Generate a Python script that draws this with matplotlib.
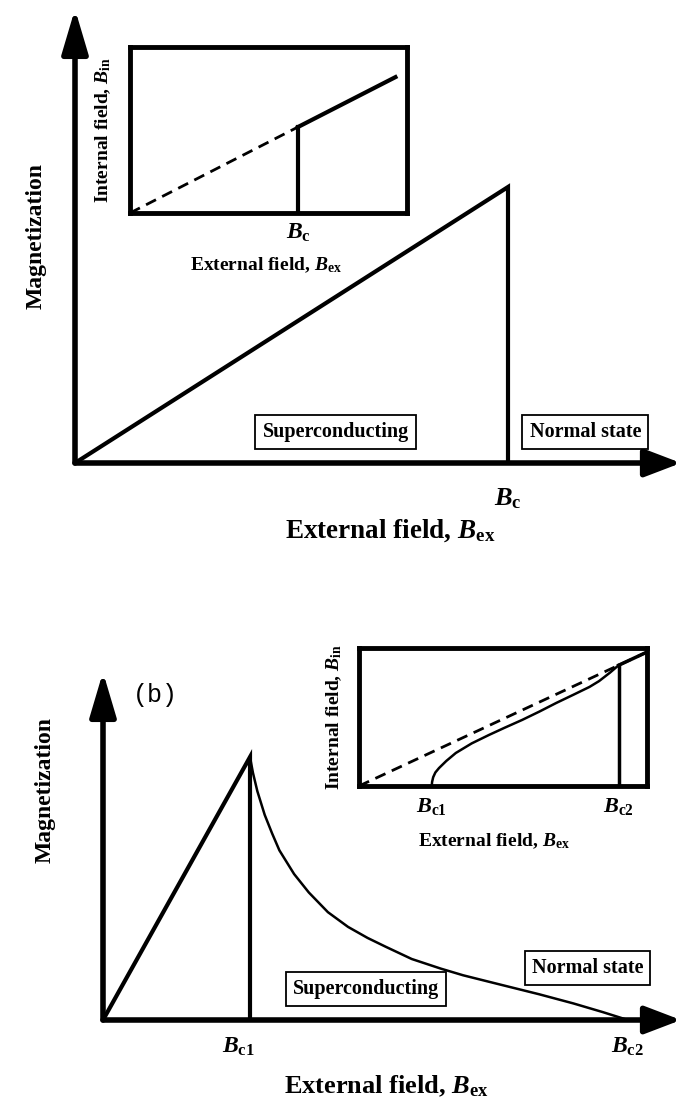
import numpy as np
import matplotlib
matplotlib.use("Agg")
import matplotlib.pyplot as plt
from matplotlib.patches import FancyArrowPatch

plt.rcParams['font.family'] = ['Liberation Serif', 'DejaVu Serif']
plt.rcParams['font.weight'] = 'bold'
plt.rcParams['mathtext.fontset'] = 'custom'
plt.rcParams['mathtext.rm'] = 'Liberation Serif:bold'
plt.rcParams['mathtext.it'] = 'Liberation Serif:bold:italic'
plt.rcParams['mathtext.bf'] = 'Liberation Serif:bold'

# ---- data (fields in units of the lower critical field) ----
# (a) type-I superconductor
typeI_B = [0.0, 1.0, 1.0]
typeI_M = [0.0, 1.0, 0.0]
typeI_in_dash_B = [0.0, 1.0]
typeI_in_dash_Bin = [0.0, 1.0]
typeI_in_jump_B = [1.0, 1.0]
typeI_in_jump_Bin = [0.0, 1.0]
typeI_in_norm_B = [1.0, 1.58]
typeI_in_norm_Bin = [1.0, 1.58]

# (b) type-II superconductor
Bc1 = 1.0
Bc2 = 3.57
typeII_rise_B = [0.0, Bc1, Bc1]
typeII_rise_M = [0.0, 1.0, 0.0]
typeII_mixed_B = [1.0, 1.02, 1.05, 1.10, 1.15, 1.20, 1.30, 1.40, 1.53, 1.667, 1.80,
                  1.925, 2.10, 2.30, 2.45, 2.70, 2.966, 3.20, 3.40, 3.57]
typeII_mixed_M = [1.0, 0.94, 0.87, 0.78, 0.71, 0.645, 0.555, 0.485, 0.41, 0.354, 0.312,
                  0.278, 0.232, 0.195, 0.170, 0.135, 0.098, 0.063, 0.030, 0.0]
typeII_in_B = [1.0, 1.005, 1.02, 1.05, 1.10, 1.20, 1.331, 1.55, 1.787, 2.0, 2.243,
               2.48, 2.713, 2.95, 3.169, 3.30, 3.45, 3.57]
typeII_in_Bin = [0.0, 0.12, 0.26, 0.40, 0.53, 0.74, 0.976, 1.26, 1.509, 1.72, 1.953,
                 2.20, 2.456, 2.70, 2.929, 3.10, 3.35, 3.57]
typeII_in_dash = [0.0, 3.96]
typeII_in_norm = [3.57, 3.96]

W, H = 681, 1100
fig = plt.figure(figsize=(W / 100, H / 100), dpi=100)


def px_axes(x0, y0, x1, y1, **kw):
    """Axes spanning pixel box (x0, y0)-(x1, y1), y measured from the top."""
    return fig.add_axes([x0 / W, 1 - y1 / H, (x1 - x0) / W, (y1 - y0) / H], **kw)


def arrow_axes(ax, lw=4):
    base = dict(mutation_scale=20, lw=lw, color='black', shrinkA=0, shrinkB=0,
                clip_on=False)
    ax.add_patch(FancyArrowPatch((0, 0), (1, 0), transform=ax.transAxes,
                                 arrowstyle='-|>,head_length=1.1,head_width=0.42', **base))
    ax.add_patch(FancyArrowPatch((0, 0), (0, 1), transform=ax.transAxes,
                                 arrowstyle='-|>,head_length=1.35,head_width=0.4', **base))


def bare(ax):
    ax.set_xticks([])
    ax.set_yticks([])
    for s in ax.spines.values():
        s.set_visible(False)
    ax.patch.set_alpha(0)


boxprops = dict(boxstyle='square,pad=0.35', fc='white', ec='black', lw=1.3)

# ================= (a) =================
axA = px_axes(75, 9, 681, 463)
axA.set_xlim(0, 606 / 433)
axA.set_ylim(0, 454 / 276)
bare(axA)
arrow_axes(axA)
axA.plot(typeI_B, typeI_M, color='black', lw=3, solid_joinstyle='miter')
axA.text(1.0, -0.085, r'$B_{\rm c}$', ha='center', va='top', fontsize=19)
axA.text(0.52, -0.12, r'External field, $B_{\rm ex}$', transform=axA.transAxes,
         ha='center', va='top', fontsize=19.5)
axA.text(-0.065, 0.5, 'Magnetization', transform=axA.transAxes, rotation=90,
         ha='center', va='center', fontsize=17)
axA.text(0.43, 0.068, 'Superconducting', transform=axA.transAxes, ha='center', va='center',
         fontsize=14.5, bbox=boxprops)
axA.text(0.842, 0.068, 'Normal state', transform=axA.transAxes, ha='center', va='center',
         fontsize=14.5, bbox=boxprops)

insA = px_axes(130, 47, 407, 213)
insA.set_xlim(0, 277 / 168)
insA.set_ylim(0, 166 / 86)
insA.set_xticks([])
insA.set_yticks([])
for s in insA.spines.values():
    s.set_linewidth(3.5)
insA.plot(typeI_in_dash_B, typeI_in_dash_Bin, color='black', lw=2, ls=(0, (4, 2.5)))
insA.plot(typeI_in_jump_B, typeI_in_jump_Bin, color='black', lw=3)
insA.plot(typeI_in_norm_B, typeI_in_norm_Bin, color='black', lw=3)
insA.text(1.0, -0.1, r'$B_{\rm c}$', ha='center', va='top', fontsize=17)
insA.text(0.49, -0.255, r'External field, $B_{\rm ex}$', transform=insA.transAxes,
          ha='center', va='top', fontsize=14)
insA.text(-0.095, 0.5, r'Internal field, $B_{\rm in}$', transform=insA.transAxes, rotation=90,
          ha='center', va='center', fontsize=14)

# ================= (b) =================
axB = px_axes(103, 672, 681, 1020)
axB.set_xlim(0, 578 / 147)
axB.set_ylim(0, 348 / 263)
bare(axB)
arrow_axes(axB)
axB.plot(typeII_rise_B, typeII_rise_M, color='black', lw=3, solid_joinstyle='miter')
axB.plot(typeII_mixed_B, typeII_mixed_M, color='black', lw=1.8)
axB.text(Bc1 - 0.08, -0.06, r'$B_{\rm c1}$', ha='center', va='top', fontsize=17)
axB.text(Bc2, -0.06, r'$B_{\rm c2}$', ha='center', va='top', fontsize=17)
axB.text(0.49, -0.155, r'External field, $B_{\rm ex}$', transform=axB.transAxes,
         ha='center', va='top', fontsize=19)
axB.text(-0.1, 0.66, 'Magnetization', transform=axB.transAxes, rotation=90,
         ha='center', va='center', fontsize=17)
axB.text(0.455, 0.09, 'Superconducting', transform=axB.transAxes, ha='center', va='center',
         fontsize=14.5, bbox=boxprops)
axB.text(0.838, 0.15, 'Normal state', transform=axB.transAxes, ha='center', va='center',
         fontsize=14.5, bbox=boxprops)
fig.text(133 / W, 1 - 695 / H, '(b)', family=['Liberation Mono', 'DejaVu Sans Mono'],
         fontweight='normal', fontsize=18, ha='left', va='center')

insB = px_axes(359, 648, 647, 786)
insB.set_xlim(0, 3.96)
insB.set_ylim(0, 4.08)
insB.set_xticks([])
insB.set_yticks([])
for s in insB.spines.values():
    s.set_linewidth(3.5)
insB.plot(typeII_in_dash, typeII_in_dash, color='black', lw=2, ls=(0, (4, 2.5)))
insB.plot(typeII_in_B, typeII_in_Bin, color='black', lw=1.8)
insB.plot([Bc2, Bc2], [0, Bc2], color='black', lw=2.5)
insB.plot(typeII_in_norm, typeII_in_norm, color='black', lw=2.5)
insB.text(Bc1, -0.3, r'$B_{\rm c1}$', ha='center', va='top', fontsize=16)
insB.text(Bc2, -0.3, r'$B_{\rm c2}$', ha='center', va='top', fontsize=16)
insB.text(0.47, -0.33, r'External field, $B_{\rm ex}$', transform=insB.transAxes,
          ha='center', va='top', fontsize=14)
insB.text(-0.085, 0.5, r'Internal field, $B_{\rm in}$', transform=insB.transAxes, rotation=90,
          ha='center', va='center', fontsize=14)

fig.savefig('out.png', dpi=100, facecolor='white')
